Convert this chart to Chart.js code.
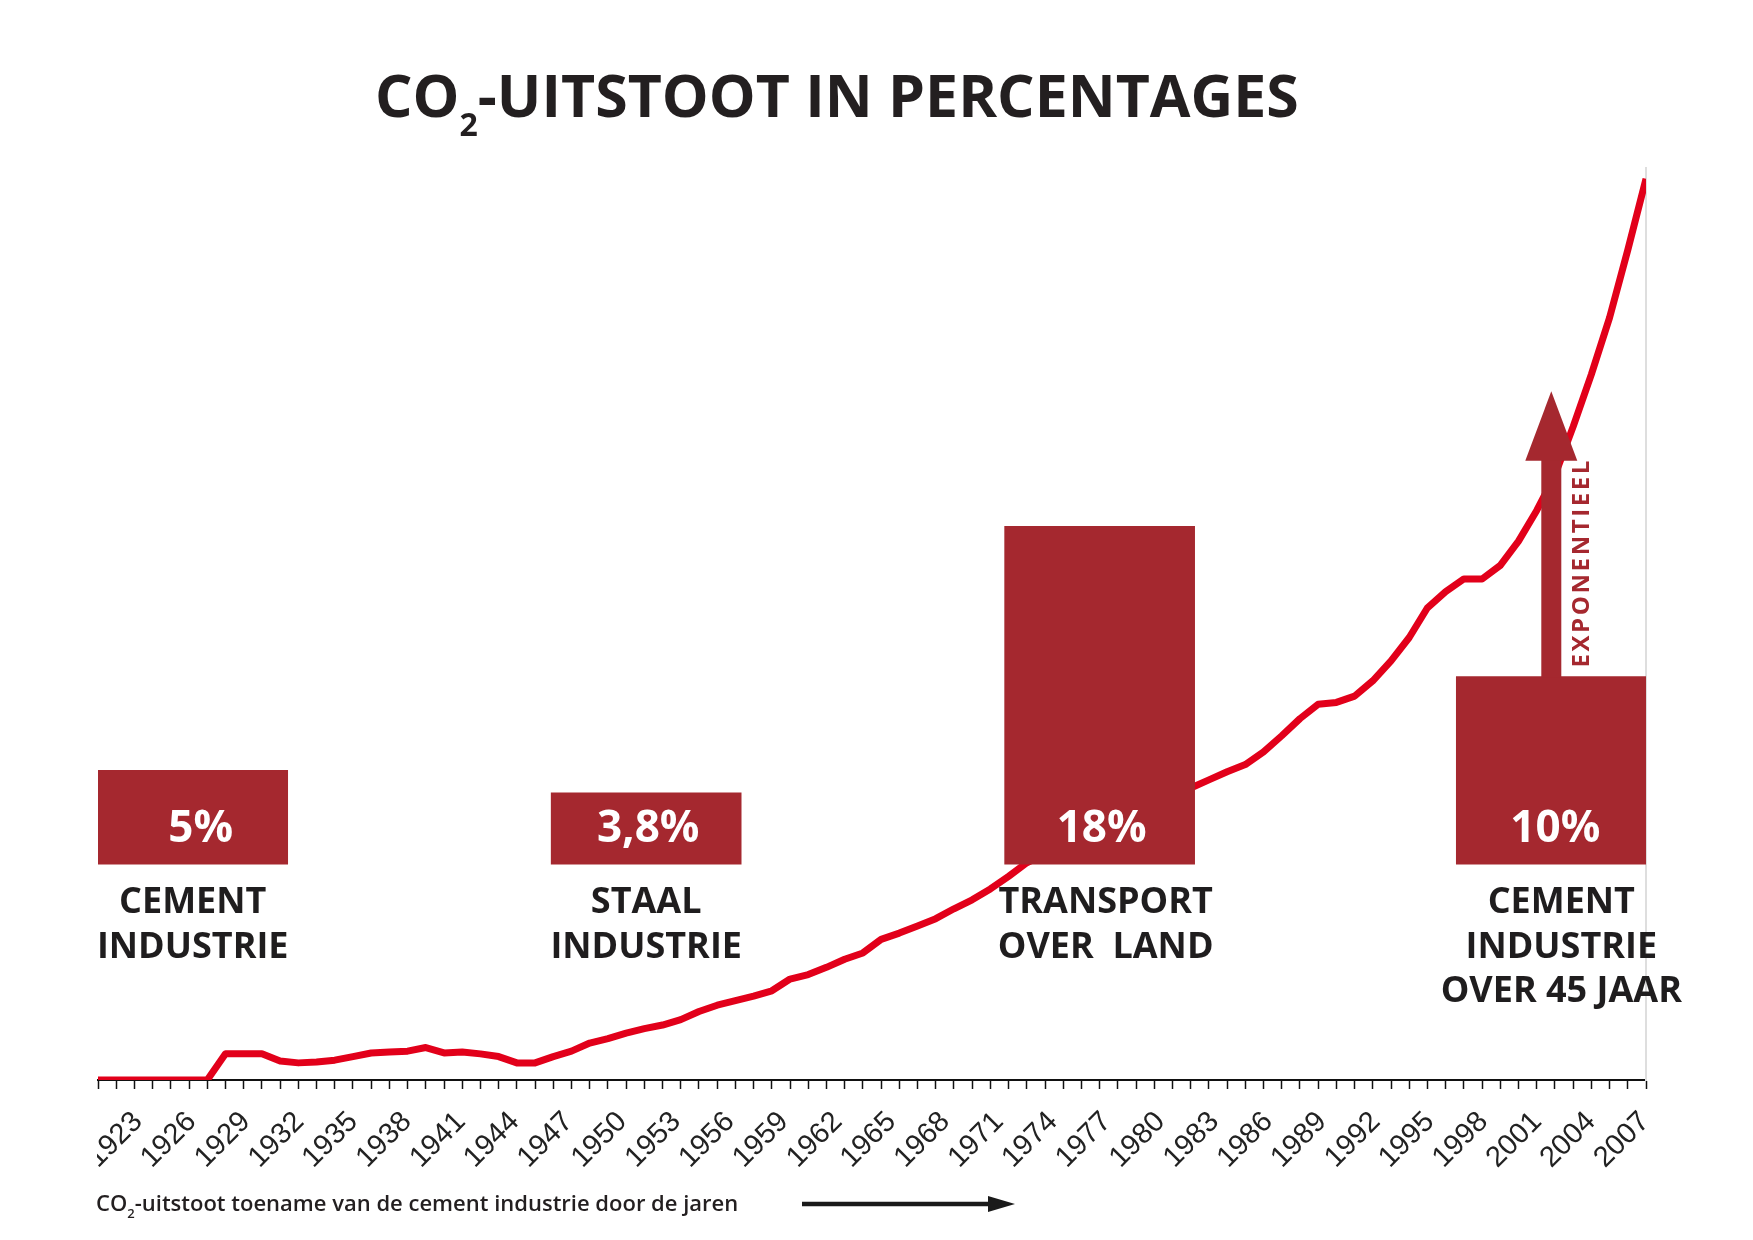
<!DOCTYPE html>
<html>
<head>
<meta charset="utf-8">
<script src="https://cdn.jsdelivr.net/npm/chart.js@4.4.1/dist/chart.umd.min.js"></script>
<style>
  body { margin: 0; background: #fff; }
  #wrap { position: relative; width: 1753px; height: 1240px; }
  .title {
    position: absolute; left: 375px; top: 64px;
    font: 700 59px/60px "Open Sans", sans-serif; color: #231f20; white-space: nowrap;
  }
  .title sub { font-size: 32px; vertical-align: -19px; line-height: 0; }
  .caption {
    position: absolute; left: 96px; top: 1189px;
    font: 600 22px/26px "Open Sans", sans-serif; color: #231f20; white-space: nowrap;
  }
  .caption sub { font-size: 13px; vertical-align: -7px; line-height: 0; }
  .caption-arrow { position: absolute; left: 800px; top: 1193px; }
</style>
</head>
<body>
<div id="wrap">
  <canvas id="chart"></canvas>
  <div class="title">CO<sub>2</sub>-UITSTOOT IN PERCENTAGES</div>
  <div class="caption">CO<sub>2</sub>-uitstoot toename van de cement industrie door de jaren</div>
  <svg class="caption-arrow" width="220" height="22">
    <line x1="2" y1="11" x2="192" y2="11" stroke="#1a1a1a" stroke-width="4.5"/>
    <polygon points="188,3 215,11 188,19" fill="#1a1a1a"/>
  </svg>
</div>
<script>
// CO2 index of the cement industry (2007 = 100)
const YEARS = [
  1922, 1923, 1924, 1925, 1926, 1927, 1928, 1929, 1930, 1931, 1932, 1933, 1934, 1935, 1936,
  1937, 1938, 1939, 1940, 1941, 1942, 1943, 1944, 1945, 1946, 1947, 1948, 1949, 1950, 1951,
  1952, 1953, 1954, 1955, 1956, 1957, 1958, 1959, 1960, 1961, 1962, 1963, 1964, 1965, 1966,
  1967, 1968, 1969, 1970, 1971, 1972, 1973, 1974, 1975, 1976, 1977, 1978, 1979, 1980, 1981,
  1982, 1983, 1984, 1985, 1986, 1987, 1988, 1989, 1990, 1991, 1992, 1993, 1994, 1995, 1996,
  1997, 1998, 1999, 2000, 2001, 2002, 2003, 2004, 2005, 2006, 2007
]
const CO2_INDEX = [
  0, 0, 0, 0, 0, 0, 0, 2.9, 2.9, 2.9, 2.1, 1.9, 2.0, 2.2, 2.6,
  3.0, 3.1, 3.2, 3.6, 3.0, 3.1, 2.9, 2.6, 1.9, 1.9, 2.6, 3.2, 4.1, 4.6, 5.2,
  5.7, 6.1, 6.7, 7.6, 8.3, 8.8, 9.3, 9.9, 11.2, 11.7, 12.5, 13.4, 14.1, 15.6, 16.3,
  17.1, 17.9, 19.0, 20.0, 21.2, 22.6, 24.1, 25.1, 25.9, 26.8, 27.5, 28.4, 29.4, 30.3, 31.3,
  32.4, 33.3, 34.2, 35.0, 36.4, 38.2, 40.1, 41.7, 41.9, 42.6, 44.3, 46.5, 49.1, 52.4, 54.2,
  55.6, 55.6, 57.1, 59.8, 63.2, 67.1, 72.5, 78.3, 84.6, 92.1, 100
]
const TICK_LABELS = [
  '1923', '1926', '1929', '1932', '1935', '1938', '1941', '1944', '1947', '1950',
  '1953', '1956', '1959', '1962', '1965', '1968', '1971', '1974', '1977', '1980',
  '1983', '1986', '1989', '1992', '1995', '1998', '2001', '2004', '2007'
]

// share of worldwide CO2 emissions per sector (boxes), placed along the time axis
const SECTORS = [
  ['CEMENT', 'INDUSTRIE'],
  ['STAAL', 'INDUSTRIE'],
  ['TRANSPORT', 'OVER  LAND'],
  ['CEMENT', 'INDUSTRIE', 'OVER 45 JAAR']
]
const SECTOR_SHARES = [5, 3.8, 18, 10]
const SECTOR_YEARS = [1927.2, 1952.1, 1977.0, 2001.8]

const BOX_RED = '#a5282f'
const LINE_RED = '#e2001a'
const INK = '#1f1d1e'
// small horizontal nudges of the box texts, as set in the original layout
const SHARE_NUDGE = [8, 2, 2, 4]
const NAME_NUDGE = [0, 0, 6, 10]

const sectorNotes = {
  id: 'sectorNotes',
  afterDatasetsDraw(chart) {
    const { ctx } = chart
    const bars = chart.getDatasetMeta(0).data
    const y2 = chart.scales.y2
    ctx.save()
    ctx.textAlign = 'center'
    ctx.textBaseline = 'alphabetic'
    bars.forEach((bar, i) => {
      ctx.fillStyle = '#fff'
      ctx.font = '700 44px "Open Sans"'
      ctx.fillText(SECTOR_SHARES[i].toLocaleString('nl-NL') + '%', bar.x + SHARE_NUDGE[i], bar.base - 22)
      ctx.fillStyle = INK
      ctx.font = '700 36px "Open Sans"'
      SECTORS[i].forEach((line, k) => ctx.fillText(line, bar.x + NAME_NUDGE[i], bar.base + 49 + k * 44.5))
    })

    // "exponentieel" arrow rising out of the last box
    const last = bars[bars.length - 1]
    const headBase = y2.getPixelForValue(21.5)
    const tip = y2.getPixelForValue(25.2)
    ctx.fillStyle = BOX_RED
    ctx.fillRect(last.x - 10, headBase - 1, 20, last.y - headBase + 2)
    ctx.beginPath()
    ctx.moveTo(last.x - 26, headBase)
    ctx.lineTo(last.x + 26, headBase)
    ctx.lineTo(last.x, tip)
    ctx.closePath()
    ctx.fill()

    ctx.translate(last.x + 31, last.y - 9)
    ctx.rotate(-Math.PI / 2)
    ctx.textAlign = 'left'
    ctx.textBaseline = 'middle'
    ctx.font = '700 24px "Open Sans"'
    ctx.letterSpacing = '2.6px'
    ctx.fillText('EXPONENTIEEL', 0, 0)
    ctx.restore()
  }
}

// year labels are cut off at both ends of the axis
const clipTickLabels = {
  id: 'clipTickLabels',
  afterDraw(chart) {
    const { ctx, chartArea, width } = chart
    ctx.save()
    ctx.fillStyle = '#fff'
    ctx.fillRect(0, chartArea.bottom + 12, chartArea.left - 1, 100)
    ctx.fillRect(chartArea.right + 1, chartArea.bottom + 12, width - chartArea.right, 100)
    ctx.restore()
  }
}

new Chart(document.getElementById('chart'), {
  data: {
    datasets: [{
      type: 'bar',
      data: SECTOR_YEARS.map((x, i) => ({ x, y: SECTOR_SHARES[i] })),
      yAxisID: 'y2',
      backgroundColor: BOX_RED,
      barThickness: 190,
      order: 0
    }, {
      type: 'line',
      data: YEARS.map((x, i) => ({ x, y: CO2_INDEX[i] })),
      yAxisID: 'y',
      borderColor: LINE_RED,
      borderWidth: 7,
      borderJoinStyle: 'round',
      pointRadius: 0,
      tension: 0,
      order: 1
    }]
  },
  options: {
    responsive: true,
    maintainAspectRatio: false,
    animation: false,
    events: [],
    layout: { padding: { top: 168, left: 98, right: 107, bottom: 0 } },
    plugins: {
      legend: { display: false },
      tooltip: { enabled: false }
    },
    scales: {
      // yearly tick marks
      x: {
        type: 'linear',
        min: 1922,
        max: 2007,
        offset: false,
        weight: 0,
        border: { display: true, color: '#111', width: 2 },
        grid: { offset: false, drawOnChartArea: false, drawTicks: true, tickLength: 9, tickWidth: 1.5, tickColor: '#111' },
        ticks: { stepSize: 1, autoSkip: false, display: false },
        afterFit(scale) {
          scale.height = 10
          scale.paddingLeft = 0
          scale.paddingRight = 0
        }
      },
      // the printed year labels run slightly tighter than the tick marks
      years: {
        type: 'linear',
        position: 'bottom',
        axis: 'x',
        min: 1920.77,
        max: 2007.06,
        offset: false,
        weight: 1,
        border: { display: false },
        grid: { display: false, drawTicks: false },
        afterBuildTicks(scale) {
          scale.ticks = TICK_LABELS.map(v => ({ value: Number(v) }))
        },
        ticks: {
          autoSkip: false,
          minRotation: 45,
          maxRotation: 45,
          padding: 15,
          color: '#222',
          font: { family: 'Liberation Sans', size: 29 },
          callback: (v) => String(v)
        },
        afterFit(scale) {
          scale.height = 150
          scale.paddingLeft = 0
          scale.paddingRight = 0
        }
      },
      y: { display: false, min: 0, max: 101.2 },
      y2: {
        position: 'right',
        min: -11.5,
        max: 37.1,
        border: { display: true, color: '#dedede', width: 2 },
        grid: { display: false },
        ticks: { display: false },
        afterFit(scale) { scale.width = 0 }
      }
    }
  },
  plugins: [sectorNotes, clipTickLabels]
})
</script>
</body>
</html>
